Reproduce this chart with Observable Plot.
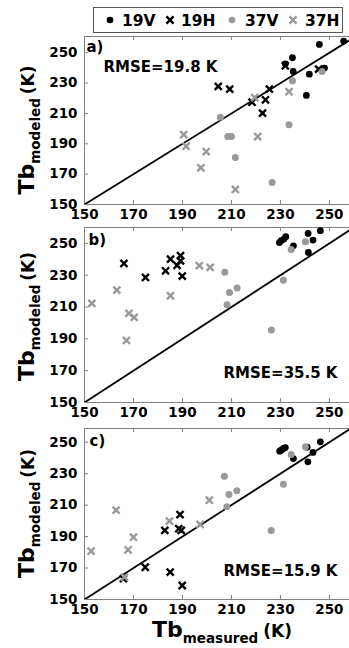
<!DOCTYPE html>
<html><head><meta charset="utf-8">
<script src="https://cdn.jsdelivr.net/npm/d3@7"></script>
<script src="https://cdn.jsdelivr.net/npm/@observablehq/plot@0.6"></script>
<style>
html,body{margin:0;padding:0;background:#fff;}
#root{position:relative;width:349px;height:648px;overflow:hidden;background:#fff;font-family:"DejaVu Sans",sans-serif;}
#root svg{position:absolute;left:0;}
</style></head><body><div id="root"></div>
<script>
// ---- data (Tb measured, Tb modeled) in K ----
const xTicks = [150, 170, 190, 210, 230, 250];
const yTicks = [150, 170, 190, 210, 230, 250];
const seriesNames = ["19V", "19H", "37V", "37H"];
const panelLetters = ["a)", "b)", "c)"];
const rmseLabels = ["RMSE=19.8 K", "RMSE=35.5 K", "RMSE=15.9 K"];
const oneToOne = [150, 275];

const a19V = [[245.9,255.5],[255.8,257.7],[234.9,246.7],[232.0,242.7],[235.2,237.7],[241.8,235.9],[248.0,239.9],[240.6,221.9]];
const a19H = [[204.6,227.8],[209.3,226.0],[225.5,226.0],[218.4,217.4],[223.9,219.0],[222.7,210.2],[232.0,241.4],[245.6,239.2]];
const a37V = [[205.5,207.5],[208.5,194.8],[210.0,194.8],[211.6,181.0],[226.6,164.5],[233.5,202.5],[234.9,231.5],[247.0,237.7]];
const a37H = [[190.5,196.1],[191.5,188.4],[199.7,184.9],[197.5,174.2],[220.7,194.8],[211.6,159.9],[233.5,224.3],[219.5,220.5]];

const b19V = [[230.3,251.7],[231.4,252.7],[232.2,254.2],[229.6,250.5],[235.3,248.5],[241.3,256.3],[243.3,252.1],[241.4,244.3],[246.3,258.0]];
const b19H = [[166.1,237.4],[174.9,228.6],[183.1,232.8],[185.1,240.1],[189.2,242.3],[189.2,239.0],[187.8,236.2],[189.9,229.4]];
const b37V = [[207.3,231.8],[209.2,219.2],[212.3,221.9],[208.2,211.4],[231.2,226.9],[234.4,246.2],[240.2,251.1],[226.3,195.5]];
const b37H = [[153.0,212.3],[163.2,220.6],[168.1,206.0],[170.3,203.5],[167.1,189.0],[185.1,217.1],[196.9,236.0],[201.3,234.9]];

const c19V = [[229.7,244.3],[230.3,244.9],[231.2,246.0],[232.0,246.6],[235.3,239.6],[241.2,237.5],[243.3,243.5],[246.3,250.2],[240.9,246.8]];
const c19H = [[189.0,204.0],[182.8,193.9],[188.5,195.0],[189.5,193.9],[174.8,170.5],[185.0,167.4],[189.9,158.9],[165.9,163.2]];
const c37V = [[234.4,242.2],[240.2,247.1],[231.2,223.3],[207.1,228.4],[209.0,216.8],[212.2,219.1],[208.1,208.9],[226.2,193.9]];
const c37H = [[162.9,206.8],[201.0,213.1],[152.7,180.7],[167.8,181.6],[170.0,189.6],[184.7,199.8],[197.2,197.7],[166.3,164.2]];

// ---- layout ----
const GRAY = "#999";
const FRAME = "#808080";
const FONT = "DejaVu Sans";
const XMAX = 258.2;
const XR = 3.3, XW = 2.4;
const panels = [
  {data:[a19V,a19H,a37V,a37H], top:36, plotH:168, ytop:260.7, labelShift:10, letter:{dx:2,dy:15}, rmse:{anchor:"top-left", dx:19, dy:35, ta:"start"}},
  {data:[b19V,b19H,b37V,b37H], top:227, plotH:175, ytop:260.0, labelShift:2, letter:{dx:4,dy:17}, rmse:{anchor:"bottom-right", dx:-12, dy:-25, ta:"end"}},
  {data:[c19V,c19H,c37V,c37H], top:428, plotH:171, ytop:258.7, labelShift:0, letter:{dx:5,dy:17}, rmse:{anchor:"bottom-right", dx:-12, dy:-24, ta:"end"}}
];
const root = document.getElementById("root");
const mt = 2, mb = 28;

panels.forEach((P, i) => {
  const kY = 4 * (P.ytop - 150) / P.plotH;
  const kX = 4 * (XMAX - 150) / 265;
  const [s19V, s19H, s37V, s37H] = P.data;
  const svg = Plot.plot({
    width: 349, height: P.plotH + mt + mb,
    marginLeft: 84, marginRight: 0, marginTop: mt, marginBottom: mb,
    style: {background: "transparent", overflow: "visible", fontFamily: FONT},
    x: {domain: [150, XMAX]},
    y: {domain: [150, P.ytop]},
    marks: [
      Plot.ruleX(xTicks, {x: d => d, y1: 150, y2: 150 + kY, stroke: FRAME}),
      Plot.ruleX(xTicks, {x: d => d, y1: P.ytop - kY, y2: P.ytop, stroke: FRAME}),
      Plot.ruleY(yTicks, {y: d => d, x1: 150, x2: 150 + kX, stroke: FRAME}),
      Plot.ruleY([150, P.ytop], {stroke: FRAME}),
      Plot.ruleX([150], {stroke: FRAME}),
      Plot.axisX({ticks: xTicks, tickSize: 0, tickPadding: 5, fontSize: 13.5, fontWeight: "bold", label: null, tickFormat: d => String(d)}),
      Plot.axisY({ticks: yTicks, tickSize: 0, tickPadding: 7, fontSize: 13.5, fontWeight: "bold", label: null, tickFormat: d => String(d)}),
      Plot.line(oneToOne, {x: d => d, y: d => d, stroke: "black", strokeWidth: 1.8, clip: true}),
      Plot.dot(s19V, {x: d => d[0], y: d => d[1], r: 3.4, fill: "black", stroke: "none"}),
      Plot.dot(s19H, {x: d => d[0], y: d => d[1], r: XR, symbol: "times", stroke: "black", strokeWidth: XW}),
      Plot.dot(s37V, {x: d => d[0], y: d => d[1], r: 3.5, fill: GRAY, stroke: "none"}),
      Plot.dot(s37H, {x: d => d[0], y: d => d[1], r: XR, symbol: "times", stroke: GRAY, strokeWidth: XW}),
      Plot.text([panelLetters[i]], {text: d => d, frameAnchor: "top-left", lineAnchor: "bottom", textAnchor: "start", dx: P.letter.dx, dy: P.letter.dy, fontSize: 15, fontWeight: "bold", fill: "black"}),
      Plot.text([rmseLabels[i]], {text: d => d, frameAnchor: P.rmse.anchor, lineAnchor: "bottom", textAnchor: P.rmse.ta, dx: P.rmse.dx, dy: P.rmse.dy, fontSize: 15, fontWeight: "bold", fill: "black"})
    ]
  });
  svg.style.top = (P.top - mt) + "px";
  // rotated y-axis label with subscript
  const cy = mt + P.plotH / 2 + P.labelShift;
  const t = d3.select(svg).append("text")
    .attr("transform", `translate(34,${cy}) rotate(-90)`)
    .attr("text-anchor", "middle")
    .attr("font-family", FONT).attr("font-weight", "bold").attr("fill", "black");
  t.append("tspan").attr("font-size", 22).text("Tb");
  t.append("tspan").attr("font-size", 13.5).attr("dy", 6).text("modeled");
  t.append("tspan").attr("font-size", 17).attr("dy", -6).attr("dx", 4).text("(K)");
  root.appendChild(svg);
});

// ---- legend and x label overlay ----
const ov = d3.select(root).append("svg").attr("width", 349).attr("height", 648).style("top", "0px").style("pointer-events", "none");
const lg = ov.append("g");
lg.append("rect").attr("x", 93.5).attr("y", 7.5).attr("width", 249).attr("height", 25).attr("fill", "white").attr("stroke", "#555");
const legendItems = [
  {name: seriesNames[0], sym: "dot", color: "black", sx: 110, tx: 122},
  {name: seriesNames[1], sym: "x", color: "black", sx: 170, tx: 181},
  {name: seriesNames[2], sym: "dot", color: GRAY, sx: 232, tx: 245},
  {name: seriesNames[3], sym: "x", color: GRAY, sx: 293, tx: 305}
];
legendItems.forEach(it => {
  if (it.sym === "dot") {
    lg.append("circle").attr("cx", it.sx).attr("cy", 20).attr("r", 3.3).attr("fill", it.color);
  } else {
    lg.append("path").attr("transform", `translate(${it.sx},20)`).attr("d", d3.symbol(d3.symbolTimes, Math.PI * XR * XR)())
      .attr("stroke", it.color).attr("stroke-width", XW).attr("fill", "none");
  }
  lg.append("text").attr("x", it.tx).attr("y", 25.5).attr("font-family", FONT).attr("font-weight", "bold").attr("font-size", 15.5).attr("fill", "black").text(it.name);
});
const xl = ov.append("text").attr("x", 152).attr("y", 637).attr("font-family", FONT).attr("font-weight", "bold").attr("fill", "black");
xl.append("tspan").attr("font-size", 22).text("Tb");
xl.append("tspan").attr("font-size", 13.5).attr("dy", 6).text("measured");
xl.append("tspan").attr("font-size", 17).attr("dy", -6).attr("dx", 5).text("(K)");
</script></body></html>
